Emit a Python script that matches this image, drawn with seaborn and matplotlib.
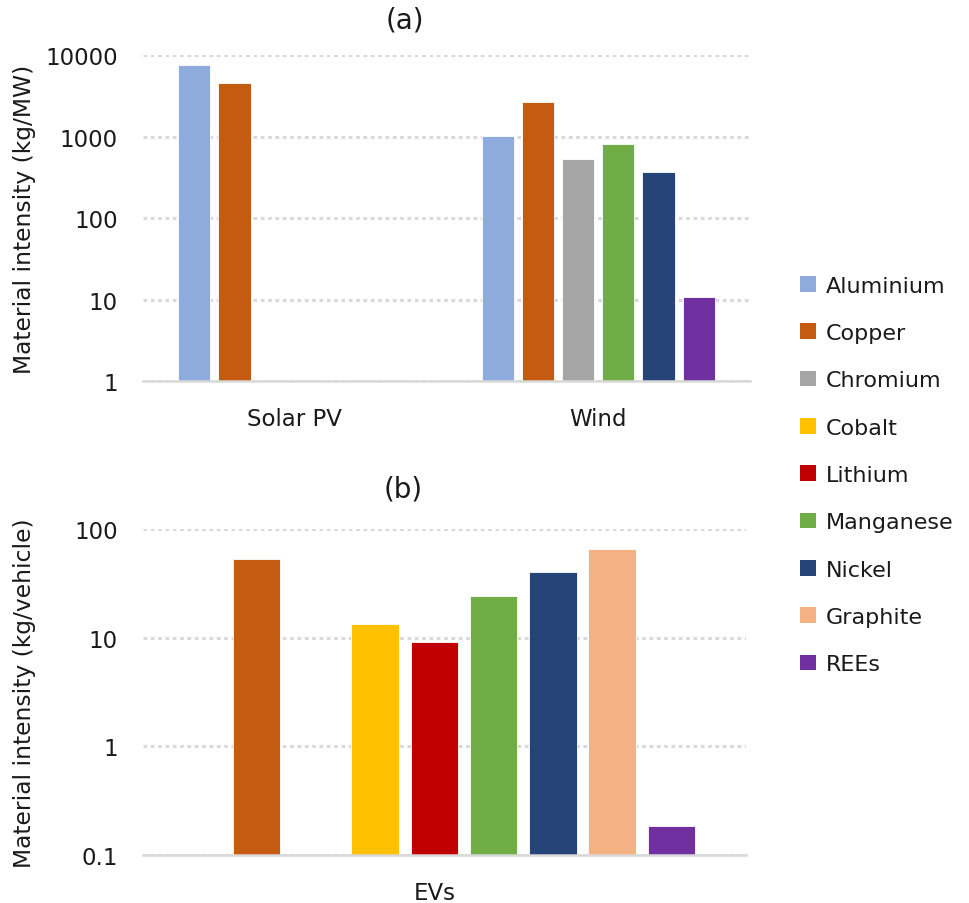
import numpy as np
import pandas as pd
import seaborn as sns
import matplotlib
matplotlib.use("Agg")
import matplotlib.pyplot as plt
from matplotlib.patches import Patch
from matplotlib.ticker import FixedLocator, FuncFormatter, NullLocator

# panel (a): kg/MW
tech_a = ["Solar PV", "Wind"]
series_a = ["Aluminium", "Copper", "Chromium", "Manganese", "Nickel", "REEs"]
aluminium_a = [7500, 1020]
copper_a = [4600, 2650]
chromium_a = [np.nan, 527]
manganese_a = [np.nan, 800]
nickel_a = [np.nan, 368]
rees_a = [np.nan, 10.6]

# panel (b): kg/vehicle
tech_b = ["EVs"]
materials = ["Aluminium", "Copper", "Chromium", "Cobalt", "Lithium",
             "Manganese", "Nickel", "Graphite", "REEs"]
values_b = [np.nan, 53, np.nan, 13.4, 9.0, 24.2, 39.9, 65.9, 0.185]

colors = {
    "Aluminium": "#8FAADC", "Copper": "#C55A11", "Chromium": "#A5A5A5",
    "Cobalt": "#FFC000", "Lithium": "#C00000", "Manganese": "#70AD47",
    "Nickel": "#264478", "Graphite": "#F4B183", "REEs": "#7030A0",
}

rows = []
for name, vals in zip(series_a, [aluminium_a, copper_a, chromium_a,
                                 manganese_a, nickel_a, rees_a]):
    for t, v in zip(tech_a, vals):
        if not np.isnan(v):
            rows.append({"tech": t, "material": name, "value": v})
df_a = pd.DataFrame(rows)

df_b = pd.DataFrame({"tech": tech_b * len(materials), "material": materials,
                     "value": values_b}).dropna()

sns.set_style("white")
plt.rcParams["font.family"] = ["DejaVu Sans"]
txt = "#1a1a1a"
grid_c = "#D9D9D9"

fig = plt.figure(figsize=(9.69, 9.04), dpi=100)
ax_a = fig.add_axes([0.1476, 0.5774, 0.6264, 0.3606])
ax_b = fig.add_axes([0.1476, 0.0536, 0.6223, 0.3601])

sns.barplot(data=df_a, x="tech", y="value", hue="material", order=tech_a,
            hue_order=series_a, palette=colors, saturation=1, width=0.795,
            gap=0.2, edgecolor="white", linewidth=0.6, legend=False, ax=ax_a)
sns.barplot(data=df_b, x="tech", y="value", hue="material", order=tech_b,
            hue_order=materials, palette=colors, saturation=1, width=0.885,
            gap=0.2, edgecolor="white", linewidth=0.6, legend=False, ax=ax_b)

setup = [
    (ax_a, (1, 10000), [1, 10, 100, 1000, 10000], "Material intensity (kg/MW)", "(a)", 1.11),
    (ax_b, (0.1, 100), [0.1, 1, 10, 100], "Material intensity (kg/vehicle)", "(b)", 1.123),
]
for ax, lims, ticks, ylab, title, ty in setup:
    ax.set_yscale("log")
    ax.set_ylim(*lims)
    ax.yaxis.set_major_locator(FixedLocator(ticks))
    ax.yaxis.set_minor_locator(NullLocator())
    ax.yaxis.set_major_formatter(FuncFormatter(lambda v, p: f"{v:g}"))
    ax.set_axisbelow(True)
    ax.yaxis.grid(True, color=grid_c, linestyle=(0, (1.2, 1.2)), linewidth=2.2)
    ax.xaxis.grid(False)
    for s in ["top", "right", "left"]:
        ax.spines[s].set_visible(False)
    ax.spines["bottom"].set_color(grid_c)
    ax.spines["bottom"].set_linewidth(1.8)
    ax.tick_params(axis="y", length=0, pad=18, labelsize=16.5, labelcolor=txt)
    ax.tick_params(axis="x", length=0, pad=19, labelsize=16.5, labelcolor=txt)
    ax.set_xlabel("")
    ax.set_ylabel(ylab, fontsize=16.8, color=txt)
    ax.text(0.432, ty, title, transform=ax.transAxes, ha="center",
            va="center", fontsize=20, color=txt)

ax_a.set_xlim(-0.5, 1.5)
ax_b.set_xlim(-0.483, 0.517)
ax_a.yaxis.set_label_coords(-0.176, 0.5)
ax_b.yaxis.set_label_coords(-0.178, 0.5)

handles = [Patch(facecolor=colors[m], edgecolor="none") for m in materials]
fig.legend(handles, materials, loc="center left", bbox_to_anchor=(0.805, 0.4734),
           frameon=False, fontsize=16, labelspacing=1.23, handlelength=0.7,
           handleheight=0.7, handletextpad=0.45, labelcolor=txt)

fig.savefig("out.png", dpi=100)
